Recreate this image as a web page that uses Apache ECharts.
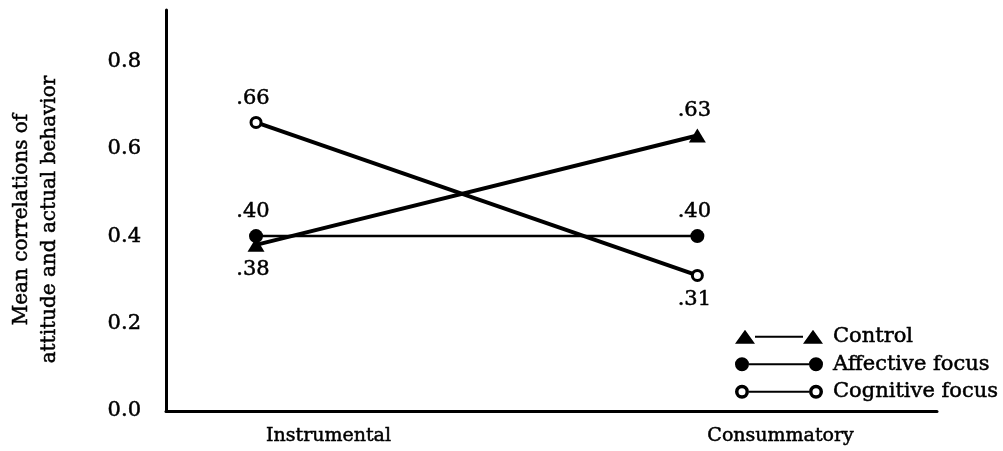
<!DOCTYPE html>
<html>
<head>
<meta charset="utf-8">
<script src="https://cdn.jsdelivr.net/npm/echarts@6/dist/echarts.min.js"></script>
<style>
  html, body { margin: 0; padding: 0; background: #fff; }
  #chart { width: 1003px; height: 451px; }
</style>
</head>
<body>
<div id="chart"></div>
<script>
// Conditions along the horizontal axis (plotted at x = 0 and x = 1)
const conditions = ['Instrumental', 'Consummatory'];
const conditionX = [0, 1];

// Mean attitude–behavior correlations per focus condition
const control = [0.38, 0.63];
const affective = [0.40, 0.40];
const cognitive = [0.66, 0.31];

// Where each value label sits relative to its point
const controlLabelPos = ['bottom', 'top'];
const affectiveLabelPos = ['top', 'top'];
const cognitiveLabelPos = ['top', 'bottom'];

// Y tick labels
const yTicks = [0.0, 0.2, 0.4, 0.6, 0.8];

const FONT = '"DejaVu Serif", "Liberation Serif", serif';
// a thin outline in the text colour gives the type a heavier, print-like weight
const INK = { color: '#000', textBorderColor: '#000', textBorderWidth: 0.5 };

function pts(values, positions) {
  return values.map((v, i) => ({
    value: [conditionX[i], v],
    label: { position: positions[i] }
  }));
}

const valueLabel = Object.assign({
  show: true,
  fontFamily: FONT,
  fontSize: 21,
  distance: 7,
  offset: [-3, 0],
  formatter: p => '.' + String(Math.round(p.value[1] * 100)).padStart(2, '0')
}, INK);

// Legend icons: a line with the marker at both ends
const triIcon = 'path://M0 14 L10 0 L20 14 Z M20 6 L68 6 L68 8 L20 8 Z M68 14 L78 0 L88 14 Z';
const dotIcon = 'path://M0 7 A7 7 0 1 1 14 7 A7 7 0 1 1 0 7 Z M14 6 L74 6 L74 8 L14 8 Z M74 7 A7 7 0 1 1 88 7 A7 7 0 1 1 74 7 Z';
const ringIcon = 'path://M0 7 A7 7 0 1 1 14 7 A7 7 0 1 1 0 7 Z M3.5 7 A3.5 3.5 0 1 0 10.5 7 A3.5 3.5 0 1 0 3.5 7 Z ' +
  'M14 6 L74 6 L74 8 L14 8 Z ' +
  'M74 7 A7 7 0 1 1 88 7 A7 7 0 1 1 74 7 Z M77.5 7 A3.5 3.5 0 1 0 84.5 7 A3.5 3.5 0 1 0 77.5 7 Z';

const chart = echarts.init(document.getElementById('chart'), null, { renderer: 'canvas' });

chart.setOption({
  backgroundColor: '#fff',
  animation: false,
  grid: { left: 163, right: 66, top: 10, bottom: 40, containLabel: false },
  xAxis: {
    type: 'value',
    min: -0.204,
    max: 1.543,
    splitLine: { show: false },
    axisTick: { show: false },
    axisLine: { show: true, onZero: false, lineStyle: { color: '#000', width: 3 } },
    axisLabel: Object.assign({
      customValues: conditionX,
      formatter: v => conditions[Math.round(v)],
      align: 'left',
      padding: [0, 0, 0, 10],
      margin: 16,
      fontFamily: FONT,
      fontSize: 19
    }, INK)
  },
  yAxis: {
    type: 'value',
    min: 0,
    max: 0.917,
    splitLine: { show: false },
    axisTick: { show: false },
    axisLine: { show: true, onZero: false, lineStyle: { color: '#000', width: 3 } },
    axisLabel: Object.assign({
      customValues: yTicks,
      formatter: v => v.toFixed(1),
      margin: 25,
      fontFamily: FONT,
      fontSize: 21
    }, INK),
    name: 'Mean correlations of\nattitude and actual behavior',
    nameLocation: 'middle',
    nameRotate: 90,
    nameGap: 102,
    nameTextStyle: Object.assign({
      fontFamily: FONT,
      fontSize: 20,
      lineHeight: 28,
      padding: [0, 18, 0, 0]
    }, INK)
  },
  legend: {
    orient: 'vertical',
    left: 730,
    top: 321,
    itemWidth: 88,
    itemHeight: 14,
    itemGap: 6,
    selectedMode: false,
    itemStyle: { color: '#000', borderWidth: 0 },
    textStyle: Object.assign({
      fontFamily: FONT,
      fontSize: 21,
      padding: [0, 0, 0, 5]
    }, INK),
    data: [
      { name: 'Control', icon: triIcon },
      { name: 'Affective focus', icon: dotIcon },
      { name: 'Cognitive focus', icon: ringIcon }
    ]
  },
  series: [
    {
      name: 'Control',
      type: 'line',
      data: pts(control, controlLabelPos),
      symbol: 'triangle',
      symbolSize: [17, 14],
      color: '#000',
      lineStyle: { color: '#000', width: 4 },
      itemStyle: { color: '#000' },
      label: valueLabel,
      z: 3
    },
    {
      name: 'Affective focus',
      type: 'line',
      data: pts(affective, affectiveLabelPos),
      symbol: 'circle',
      symbolSize: 14,
      color: '#000',
      lineStyle: { color: '#000', width: 2.5 },
      itemStyle: { color: '#000' },
      label: valueLabel,
      z: 2
    },
    {
      name: 'Cognitive focus',
      type: 'line',
      data: pts(cognitive, cognitiveLabelPos),
      symbol: 'circle',
      symbolSize: 10,
      color: '#000',
      lineStyle: { color: '#000', width: 4 },
      itemStyle: { color: '#fff', borderColor: '#000', borderWidth: 3 },
      label: valueLabel,
      z: 3
    }
  ]
});
</script>
</body>
</html>
